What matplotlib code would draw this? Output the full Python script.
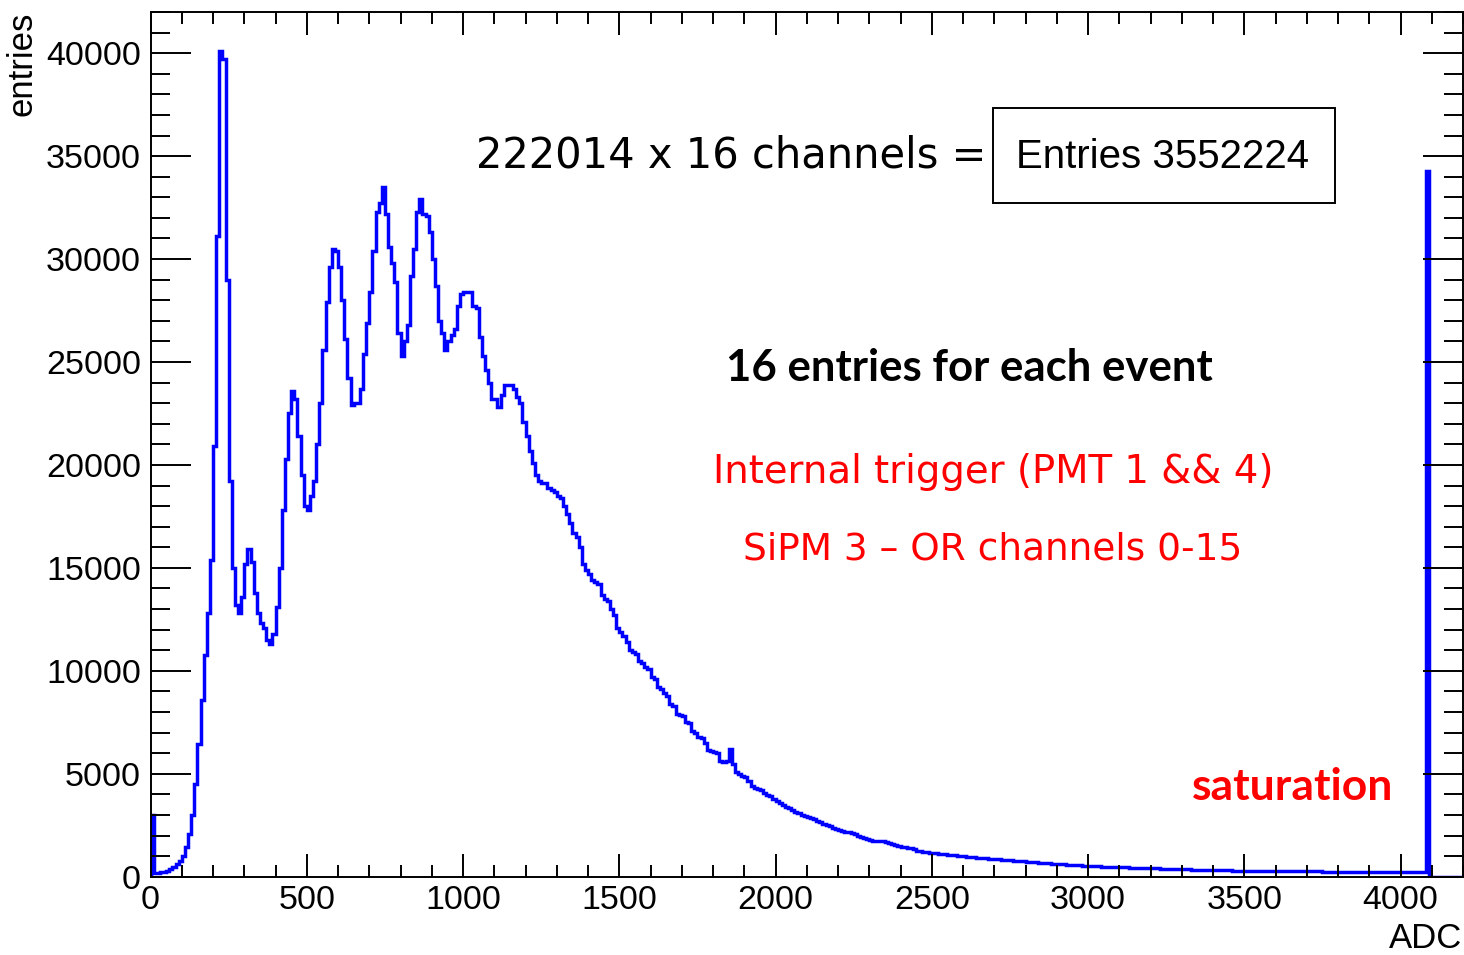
import numpy as np
import matplotlib.pyplot as plt
from matplotlib.patches import Rectangle
from matplotlib.ticker import MultipleLocator, FormatStrFormatter

# ADC spectrum of SiPM 3, all 16 channels OR-ed, 10-count bins over 0..4200
bin_width = 10
adc_max = 4200

counts = [
    3000, 180, 190, 210, 250, 300, 390, 480, 640, 760,
    1000, 1450, 2050, 3000, 4500, 6450, 8580, 10770, 12800, 15400,
    20900, 31100, 40100, 39700, 29000, 19200, 15000, 13200, 12800, 13600,
    15200, 15900, 15300, 13800, 12800, 12300, 12100, 11500, 11300, 11800,
    13100, 15000, 17800, 20300, 22500, 23600, 23200, 21400, 19500, 18000,
    17800, 18500, 19200, 21000, 23000, 25600, 27900, 29600, 30500, 30400,
    29600, 28000, 26100, 24200, 22900, 23000, 23000, 23700, 25400, 26900,
    28400, 30400, 32300, 32700, 33500, 32200, 30600, 29800, 28900, 26400,
    25300, 26000, 26800, 29200, 30500, 32300, 32900, 32200, 32100, 31300,
    30000, 28700, 27000, 26400, 25600, 26000, 26300, 26600, 27700, 28300,
    28400, 28400, 28400, 27700, 27600, 26200, 25300, 24600, 24000, 23200,
    23200, 22800, 23400, 23900, 23900, 23900, 23700, 23300, 23000, 22100,
    21400, 20700, 20100, 19500, 19200, 19100, 19100, 18900, 18800, 18700,
    18500, 18400, 18000, 17600, 17200, 16700, 16500, 16000, 15200, 14900,
    14700, 14400, 14300, 14200, 13700, 13500, 13400, 13000, 12700, 12100,
    11900, 11700, 11400, 11000, 10900, 10800, 10500, 10400, 10200, 10100,
    9700, 9600, 9200, 9100, 8900, 8800, 8400, 8300, 7900, 7850,
    7800, 7500, 7450, 7100, 7000, 6800, 6750, 6500, 6150, 6100,
    6050, 6000, 5600, 5550, 5600, 6200, 5450, 5100, 5000, 4900,
    4850, 4650, 4400, 4300, 4250, 4200, 4050, 3950, 3900, 3750,
    3700, 3600, 3500, 3400, 3350, 3250, 3150, 3100, 3000, 2950,
    2900, 2850, 2800, 2700, 2650, 2550, 2500, 2450, 2350, 2300,
    2250, 2200, 2150, 2150, 2100, 2050, 2000, 1950, 1900, 1850,
    1800, 1750, 1720, 1730, 1720, 1700, 1650, 1600, 1550, 1500,
    1450, 1420, 1400, 1380, 1350, 1270, 1230, 1210, 1190, 1170,
    1150, 1130, 1110, 1100, 1080, 1060, 1050, 1030, 1010, 1000,
    990, 970, 960, 950, 930, 920, 910, 900, 880, 870,
    850, 840, 830, 810, 800, 790, 770, 760, 750, 740,
    720, 710, 700, 690, 680, 670, 660, 650, 640, 630,
    620, 610, 600, 590, 580, 570, 560, 550, 540, 530,
    520, 515, 505, 500, 490, 485, 480, 475, 470, 465,
    460, 455, 450, 445, 440, 435, 430, 425, 420, 415,
    410, 405, 400, 395, 390, 385, 380, 375, 370, 365,
    360, 355, 350, 345, 340, 340, 335, 330, 330, 325,
    320, 320, 315, 310, 310, 305, 300, 300, 295, 295,
    290, 290, 285, 285, 280, 280, 280, 275, 275, 275,
    270, 270, 270, 265, 265, 265, 265, 260, 260, 260,
    260, 255, 255, 255, 255, 250, 250, 250, 250, 250,
    245, 245, 245, 245, 240, 240, 240, 240, 240, 240,
    235, 235, 235, 235, 235, 230, 230, 230, 230, 230,
    230, 225, 225, 225, 225, 220, 220, 220,
    34300,                                  # saturation bin
    0, 0, 0, 0, 0, 0, 0, 0, 0, 0, 0,
]

n_events = 222014
n_channels = 16
n_entries = 3552224

edges = np.arange(0, adc_max + bin_width, bin_width)

W, H = 1464, 955
fig = plt.figure(figsize=(W / 100, H / 100), dpi=100)
ax = fig.add_axes([150.5 / W, 1 - 876.7 / H, 1312.5 / W, 864.7 / H])

ax.stairs(counts, edges, color='#0000ff', linewidth=2.5, baseline=0)

ax.set_xlim(0, adc_max)
ax.set_ylim(0, 42000)

ax.xaxis.set_major_locator(MultipleLocator(500))
ax.xaxis.set_minor_locator(MultipleLocator(100))
ax.yaxis.set_major_locator(MultipleLocator(5000))
ax.yaxis.set_minor_locator(MultipleLocator(1000))
ax.yaxis.set_major_formatter(FormatStrFormatter('%d'))

tick_font = 'Liberation Sans'
ax.tick_params(axis='x', which='major', direction='in', length=16.5, width=1.4,
               top=True, pad=6, labelsize=24.5)
ax.tick_params(axis='x', which='minor', direction='in', length=8.5, width=1.4, top=True)
ax.tick_params(axis='y', which='major', direction='in', length=28.5, width=1.4,
               right=True, pad=7, labelsize=24.5)
ax.tick_params(axis='y', which='minor', direction='in', length=14, width=1.4, right=True)
for lab in ax.get_xticklabels() + ax.get_yticklabels():
    lab.set_fontfamily(tick_font)
for sp in ax.spines.values():
    sp.set_linewidth(1.4)

# axis titles, ROOT style (at the far ends of the axes)
fig.text(22 / W, 1 - 12 / H, 'entries', rotation=90, ha='center', va='top',
         fontsize=25, family=tick_font)
fig.text(1462 / W, 1 - 938 / H, 'ADC', ha='right', va='center',
         fontsize=25, family=tick_font)

# stats box
fig.add_artist(Rectangle((993 / W, 1 - 203 / H), 342 / W, 95 / H,
                         transform=fig.transFigure, facecolor='white',
                         edgecolor='black', linewidth=1.4))
fig.text(1162 / W, 1 - 157 / H, 'Entries %d' % n_entries, ha='center', va='center',
         fontsize=29, family=tick_font)

fig.text(731 / W, 1 - 155 / H, '%d x %d channels =' % (n_events, n_channels),
         ha='center', va='center', fontsize=30, family='DejaVu Sans')
fig.text(969 / W, 1 - 368 / H, '16 entries for each event', ha='center', va='center',
         fontsize=31.5, fontweight='bold', family='Lato')
fig.text(993 / W, 1 - 472 / H, 'Internal trigger (PMT 1 && 4)', ha='center',
         va='center', fontsize=27.8, color='#ff0000', family='DejaVu Sans')
fig.text(993 / W, 1 - 549 / H, 'SiPM 3 \u2013 OR channels 0-15', ha='center',
         va='center', fontsize=27, color='#ff0000', family='DejaVu Sans')
fig.text(1293 / W, 1 - 787 / H, 'saturation', ha='center', va='center',
         fontsize=32, fontweight='bold', color='#ff0000', family='Lato')

fig.savefig('out.png', dpi=100)
